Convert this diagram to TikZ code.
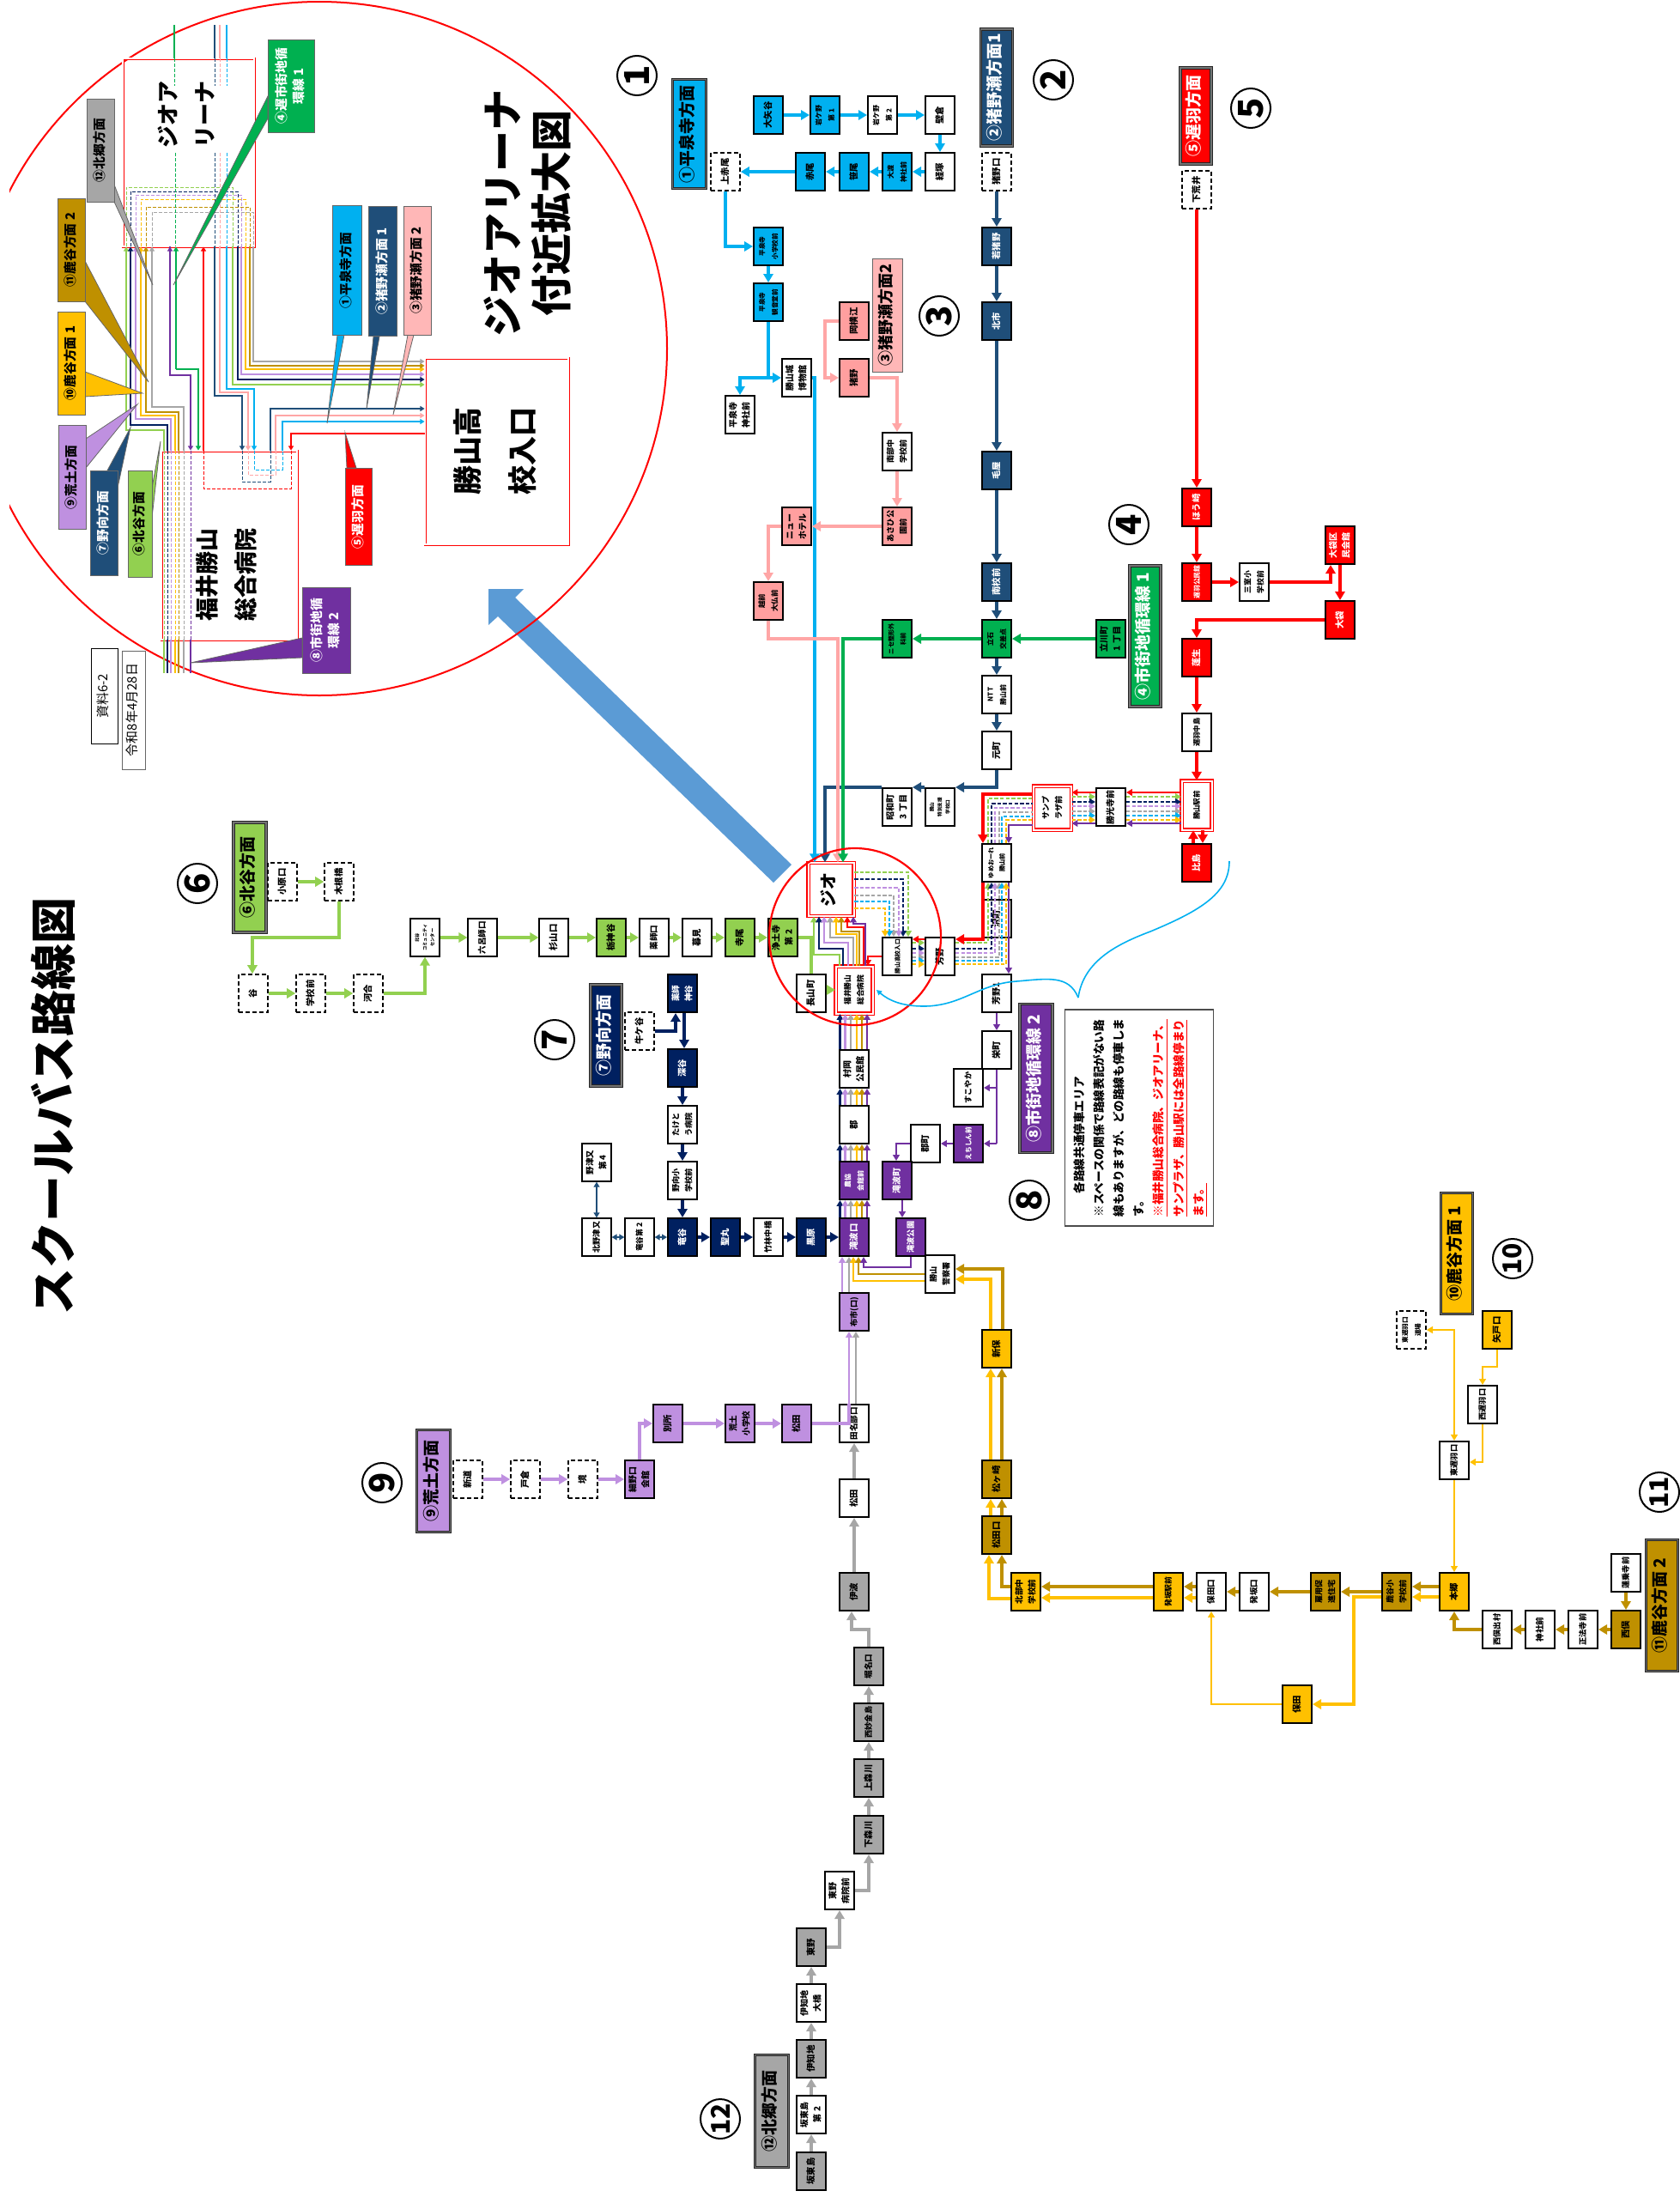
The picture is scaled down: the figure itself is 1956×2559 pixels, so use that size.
\documentclass[tikz,border=0pt]{standalone}
\usepackage{fontspec}
\setmainfont{Noto Sans CJK JP}
\usetikzlibrary{arrows.meta}
\newcommand{\tb}[1]{\rotatebox{90}{\begin{tabular}{@{}c@{}}#1\end{tabular}}}
\begin{document}
\begin{tikzpicture}[
  x=.5pt, y=-.5pt,
  stop/.style={
    draw=black,
    line width=1pt,
    fill=white,
    minimum width=17pt,
    minimum height=22pt,
    inner sep=0pt,
    font=\bfseries\fontsize{5.2}{8.5}\selectfont,
  },
  stopd/.style={stop, dashed, line width=.8pt, dash pattern=on 2.5pt off 1.5pt},
  stopt/.style={stop, line width=.6pt},
  fz/.style={font=\bfseries\fontsize{#1}{7.5}\selectfont},
  redbox/.style={stop, draw=red, double=white, double distance=1pt, line width=.6pt},
  hdr/.style={
    draw=black!85,
    double=black!55,
    double distance=.7pt,
    line width=.55pt,
    inner sep=0pt,
    font=\bfseries\fontsize{9.5}{11}\selectfont,
  },
  num/.style={
    circle,
    draw=black,
    line width=1pt,
    fill=white,
    minimum size=23pt,
    inner sep=0pt,
    font=\bfseries\fontsize{20}{20}\selectfont,
  },
  numw/.style={num, font=\bfseries\fontsize{15}{15}\selectfont},
  call/.style={
    draw=black!60,
    line width=.4pt,
    inner sep=0pt,
    font=\bfseries\fontsize{7.4}{10}\selectfont,
  },
  callp/.style={draw=black!60, line width=.4pt},
  lab/.style={inner sep=0pt},
  lineto/.style={line width=1.6pt, -{Triangle[length=5pt,width=5.6pt]}},
  thinto/.style={line width=1.05pt, -{Triangle[length=3.4pt,width=3.8pt]}},
  thinl/.style={line width=1.05pt},
  dashy/.style={line width=1.05pt, dash pattern=on 2.2pt off 1.1pt},
  dashto/.style={dashy, -{Triangle[length=3.4pt,width=3.8pt]}},
  boxin/.style={line width=.45pt, dash pattern=on 2pt off 1pt},
  inl/.style={line width=.8pt},
  into/.style={line width=.8pt, -{Triangle[length=2.6pt,width=3pt]}},
]
  \definecolor{cyanish}{RGB}{0,176,240}
  \definecolor{navytwo}{RGB}{31,78,121}
  \definecolor{navyseven}{RGB}{0,32,96}
  \definecolor{pinkline}{RGB}{255,166,166}
  \definecolor{pinkbox}{RGB}{255,159,159}
  \definecolor{pinkhead}{RGB}{255,183,183}
  \definecolor{greenish}{RGB}{0,176,80}
  \definecolor{limeish}{RGB}{146,208,80}
  \definecolor{purpleish}{RGB}{112,48,160}
  \definecolor{lilacish}{RGB}{191,144,224}
  \definecolor{yellowish}{RGB}{255,192,0}
  \definecolor{goldish}{RGB}{191,144,0}
  \definecolor{greyish}{RGB}{166,166,166}
  \definecolor{arrowblue}{RGB}{91,155,213}
  \useasboundingbox (0,0) rectangle (1956,2559);

  % title and date
  \node[lab, font=\bfseries\fontsize{27}{30}\selectfont] (title) at (68,1288) {\tb{スクールバス路線図}};
  \node[draw=black, line width=.5pt, minimum width=15.5pt, minimum height=55.5pt, inner sep=0pt, font=\fontsize{7.5}{9}\selectfont] (shiryo) at (121.5,811) {\tb{資料6-2}};
  \node[draw=black!60, line width=.5pt, minimum width=13.5pt, minimum height=69pt, inner sep=0pt, font=\fontsize{7.5}{9}\selectfont] (reiwa) at (156,827) {\tb{令和8年4月28日}};

  % big arrow
  \fill[arrowblue] (922,1007) -- (901,1028) -- (580,718) -- (569,728) -- (569,686) -- (610,686) -- (600,696) -- cycle;

  % route 1
  \node[hdr, fill=cyanish, minimum width=19.5pt, minimum height=63.5pt] (headone) at (803,156) {\tb{①平泉寺方面}};
  \node[num] (numone) at (742,88) {\rotatebox{90}{1}};
  \node[stop, fill=cyanish] (oyadani) at (895,134) {\tb{大矢谷}};
  \node[stop, fill=cyanish, fz=4] (iwaone) at (961,134) {\tb{岩ケ野\\第 1}};
  \node[stop, fz=4] (iwatwo) at (1028,134) {\tb{岩ケ野\\第 2}};
  \node[stop] (kabe) at (1095,134) {\tb{壁倉}};
  \node[stop] (kyoz) at (1095,200) {\tb{経塚}};
  \node[stop, fill=cyanish, fz=4] (owata) at (1045,200) {\tb{大渡\\神社前}};
  \node[stop, fill=cyanish] (sasao) at (995,200) {\tb{笹尾}};
  \node[stop, fill=cyanish] (akao) at (944,200) {\tb{赤尾}};
  \node[stopd] (kamiakao) at (845,200) {\tb{上赤尾}};
  \node[stop, fill=cyanish, fz=3.8] (hsgaku) at (895,287) {\tb{平泉寺\\小学校前}};
  \node[stop, fill=cyanish, fz=3.8] (hkan) at (895,352) {\tb{平泉寺\\観音堂前}};
  \node[stop, fz=5] (haku) at (928,440) {\tb{勝山城\\博物館}};
  \node[stop, fz=5] (hjin) at (862,483) {\tb{平泉寺\\神社前}};

  % route 2
  \node[hdr, fill=navytwo, text=white, minimum width=18.5pt, minimum height=68pt] (headtwo) at (1161,102) {\tb{②猪野瀬方面1}};
  \node[num] (numtwo) at (1227,93) {\rotatebox{90}{2}};
  \node[stopd] (inoguchi) at (1161,200) {\tb{猪野口}};
  \node[stop, fill=navytwo, text=white] (wakai) at (1161,287) {\tb{若猪野}};
  \node[stop, fill=navytwo, text=white] (kitaichi) at (1161,374) {\tb{北市}};
  \node[stop, fill=navytwo, text=white] (keya) at (1161,548) {\tb{毛屋}};
  \node[stop, fill=navytwo, text=white] (nanko) at (1161,678) {\tb{南校前}};
  \node[stop, fill=greenish, fz=4] (tateishi) at (1161,744) {\tb{立石\\交差点}};
  \node[stop, fz=4] (ntt) at (1161,809) {\tb{NTT\\勝山前}};
  \node[stop] (moto) at (1161,874) {\tb{元町}};
  \node[stop, font=\bfseries\fontsize{2.8}{4.6}\selectfont] (toku) at (1095,940) {\tb{勝山\\特別支援\\学校口}};
  \node[stop, fz=5] (showa) at (1045,940) {\tb{昭和町\\3 丁目}};

  % route 3
  \node[draw=black!60, line width=.5pt, fill=pinkhead, minimum width=17.5pt, minimum height=66pt, inner sep=0pt, font=\bfseries\fontsize{9}{11}\selectfont] (headthree) at (1034,367) {\tb{③猪野瀬方面2}};
  \node[num] (numthree) at (1094,368) {\rotatebox{90}{3}};
  \node[stop, fill=pinkbox] (okayoko) at (995,374) {\tb{岡横江}};
  \node[stop, fill=pinkbox] (inoo) at (995,440) {\tb{猪野}};
  \node[stop, fz=4.6] (nanbu) at (1045,526) {\tb{南部中\\学校前}};
  \node[stop, fill=pinkbox, fz=4.6] (asahi) at (1045,613) {\tb{あさひ公\\園前}};
  \node[stop, fill=pinkbox, fz=5] (newhotel) at (928,613) {\tb{ニュー\\ホテル}};
  \node[stop, fill=pinkbox, fz=4.2] (daibutsu) at (895,700) {\tb{越前\\大仏前}};

  % route 4
  \node[hdr, fill=greenish, text=white, minimum width=18pt, minimum height=82pt] (headfour) at (1334,741) {\tb{④市街地循環線 1}};
  \node[num] (numfour) at (1315,611) {\rotatebox{90}{4}};
  \node[stop, fill=greenish, fz=5] (tachi) at (1294,744) {\tb{立川町\\1 丁目}};
  \node[stop, fill=greenish, font=\bfseries\fontsize{3.6}{7}\selectfont] (nise) at (1045,744) {\tb{ニセ整形外\\科前}};

  % route 5
  \node[hdr, fill=red, text=white, minimum width=18pt, minimum height=56pt] (headfive) at (1393,135) {\tb{⑤遅羽方面}};
  \node[num] (numfive) at (1457,126) {\rotatebox{90}{5}};
  \node[stopd] (shimoarai) at (1394,221) {\tb{下荒井}};
  \node[stop, fill=red, text=white] (hozaki) at (1394,591) {\tb{ほう崎}};
  \node[stop, fill=red, text=white, fz=3.9] (kominkan) at (1394,678) {\tb{遅羽公民館}};
  \node[stop, fz=4.4] (sanshitsu) at (1461,678) {\tb{三室小\\学校前}};
  \node[stop, fill=red, text=white, fz=5] (okubuku) at (1561,635) {\tb{大袋区\\民会館}};
  \node[stop, fill=red, text=white] (obukuro) at (1561,722) {\tb{大袋}};
  \node[stop, fill=red, text=white] (yomogi) at (1394,766) {\tb{蓬生}};
  \node[stop, fz=4.2] (nakajima) at (1394,853) {\tb{遅羽中島}};
  \node[redbox, minimum width=17.5pt, minimum height=28.5pt, fz=4.2] (eki) at (1394,938) {\tb{勝山駅前}};
  \node[stop, fill=red, text=white] (hijima) at (1394,1005) {\tb{比島}};

  % trunk
  \node[redbox, minimum width=22pt, minimum height=25.5pt, fz=4.6] (sunplaza) at (1226,941) {\tb{サンプ\\ラザ前}};
  \node[stop, fz=5] (kokoji) at (1294,940) {\tb{勝光寺前}};
  \node[stop, font=\bfseries\fontsize{3.6}{6.5}\selectfont] (yume) at (1161,1005) {\tb{ゆめおーれ\\勝山前}};
  \node[stop] (sawa) at (1161,1070) {\tb{沢町}};
  \node[stop] (yoshino) at (1095,1114) {\tb{芳野}};
  \node[stop, fz=3.4] (konyu) at (1045,1114) {\tb{勝山高校入口}};
  \node[redbox, minimum width=26.5pt, minimum height=31pt, font=\bfseries\fontsize{10}{12}\selectfont] (jio) at (968,1036) {\tb{ジオ}};
  \node[redbox, minimum width=21.5pt, minimum height=27.5pt, fz=4.4] (hosp) at (995,1153) {\tb{福井勝山\\総合病院}};
  \node[stop, fz=5.2] (choyama) at (945,1157) {\tb{長山町}};
  \node[stop, fill=limeish, fz=5] (joudo) at (912,1092) {\tb{浄土寺\\第 2}};
  \node[stop, fz=5] (yoshinoone) at (1161,1157) {\tb{芳野1}};
  \node[stop] (sakae) at (1161,1223) {\tb{栄町}};
  \node[stop, fz=4.6] (sukoyaka) at (1128,1267) {\tb{すこやか}};
  \node[stop, fill=purpleish, text=white, fz=3.9] (echi) at (1128,1332) {\tb{えちしん前}};
  \node[stop] (koricho) at (1078,1332) {\tb{郡町}};
  \node[stop, fz=5] (mura) at (995,1245) {\tb{村岡\\公民館}};
  \node[stop] (kori) at (995,1310) {\tb{郡}};
  \node[stop, fill=purpleish, text=white, fz=4] (nokyo) at (995,1375) {\tb{農協\\会館前}};
  \node[stop, fill=purpleish, text=white, fz=5] (takicho) at (1045,1375) {\tb{滝波町}};
  \node[stop, fill=purpleish, text=white, fz=4.6] (takikoen) at (1061,1441) {\tb{滝波公園}};
  \node[stop, fill=purpleish, text=white] (takiguchi) at (995,1441) {\tb{滝波口}};
  \node[stop, fz=4.6] (police) at (1095,1484) {\tb{勝山\\警察署}};
  \node[stop, fill=lilacish, fz=4.6] (nunoichi) at (995,1528) {\tb{布市(口)}};
  \node[stop, fz=4.8] (tanabe) at (995,1658) {\tb{田名部口}};

  % route 6
  \node[hdr, fill=limeish, minimum width=19pt, minimum height=64pt] (headsix) at (291,1022) {\tb{⑥北谷方面}};
  \node[num] (numsix) at (230,1029) {\rotatebox{90}{6}};
  \node[stopd] (ohara) at (329,1027) {\tb{小原口}};
  \node[stopd] (kine) at (395,1027) {\tb{木根橋}};
  \node[stopd] (tani) at (295,1157) {\tb{谷}};
  \node[stopd] (gakko) at (362,1157) {\tb{学校前}};
  \node[stopd] (kawai) at (429,1157) {\tb{河合}};
  \node[stopt, font=\bfseries\fontsize{2.6}{4.4}\selectfont] (kitadani) at (495,1092) {\tb{北谷\\コミュニティ\\センター}};
  \node[stopt, fz=4.8] (rokuro) at (562,1092) {\tb{六呂師口}};
  \node[stopt] (sugi) at (645,1092) {\tb{杉山口}};
  \node[stop, fill=limeish] (tochi) at (712,1092) {\tb{栃神谷}};
  \node[stop, fz=4.8] (yakuguchi) at (762,1092) {\tb{薬師口}};
  \node[stop] (kuremi) at (812,1092) {\tb{暮見}};
  \node[stop, fill=limeish] (terao) at (862,1092) {\tb{寺尾}};

  % route 7
  \node[hdr, fill=navyseven, text=white, minimum width=18pt, minimum height=59pt] (headseven) at (706,1206) {\tb{⑦野向方面}};
  \node[num] (numseven) at (646,1211) {\rotatebox{90}{7}};
  \node[stop, fill=navyseven, text=white, fz=4.8] (yakushi) at (795,1157) {\tb{薬師\\神谷}};
  \node[stopd] (ushi) at (745,1201) {\tb{牛ケ谷}};
  \node[stop, fill=navyseven, text=white] (fuka) at (795,1244) {\tb{深谷}};
  \node[stop, fz=4.6] (taketo) at (795,1310) {\tb{たけと\\う病院}};
  \node[stop, fz=4.6] (nomuke) at (795,1375) {\tb{野向小\\学校前}};
  \node[stop, fill=navyseven, text=white] (ryu) at (795,1441) {\tb{竜谷}};
  \node[stop, fill=navyseven, text=white] (hijiri) at (845,1441) {\tb{聖丸}};
  \node[stop, fz=4.6] (takeb) at (895,1441) {\tb{竹林中橋}};
  \node[stop, fill=navyseven, text=white] (kuro) at (945,1441) {\tb{黒原}};
  \node[stopt, fz=4.4] (ryutwo) at (745,1441) {\tb{竜谷第 2}};
  \node[stopt, fz=4.6] (kitano) at (695,1441) {\tb{北野津又}};
  \node[stopt, fz=4.8] (notsu) at (695,1354) {\tb{野津又\\第 4}};

  % route 8
  \node[hdr, fill=purpleish, text=white, minimum width=19pt, minimum height=86.5pt] (headeight) at (1207,1256) {\tb{⑧市街地循環線 2}};
  \node[num] (numeight) at (1199,1398) {\rotatebox{90}{8}};
  \node[draw=black!70, line width=.7pt, fill=white, minimum width=86.5pt, minimum height=126pt, inner sep=0pt, font=\bfseries\fontsize{6.8}{11.6}\selectfont] (note) at (1327,1302) {\rotatebox{90}{\begin{tabular}{@{}l@{}}
    \hspace{2em}各路線共通停車エリア\\
    ※スペースの関係で路線表記がない路\\
    線もありますが、どの路線も停車しま\\
    す。\\
    \textcolor{red}{\underline{※福井勝山総合病院、ジオアリーナ、}}\\
    \textcolor{red}{\underline{サンプラザ、勝山駅には全路線停まり}}\\
    \textcolor{red}{\underline{ます。}}
  \end{tabular}}};

  % route 9
  \node[hdr, fill=lilacish, minimum width=19.5pt, minimum height=59.5pt] (headnine) at (505,1725) {\tb{⑨荒土方面}};
  \node[num] (numnine) at (445,1727) {\rotatebox{90}{9}};
  \node[stopd] (shindo) at (545,1723) {\tb{新道}};
  \node[stopd] (tokura) at (612,1723) {\tb{戸倉}};
  \node[stopd] (sakai) at (679,1723) {\tb{境}};
  \node[stop, fill=lilacish, fz=5] (hosono) at (745,1723) {\tb{細野口\\会館}};
  \node[stop, fill=lilacish] (bessho) at (778,1658) {\tb{別所}};
  \node[stop, fill=lilacish, fz=4.8] (arado) at (862,1658) {\tb{荒土\\小学校}};
  \node[stop, fill=lilacish] (matsulilac) at (928,1658) {\tb{松田}};

  % route 10 and 11
  \node[hdr, fill=yellowish, minimum width=18.5pt, minimum height=70.5pt] (headten) at (1697,1460) {\tb{⑩鹿谷方面 1}};
  \node[numw] (numten) at (1762,1466) {\rotatebox{90}{10}};
  \node[stopd, fz=3.8] (higadojo) at (1644,1549) {\tb{東遅羽口\\道場}};
  \node[stop, fill=yellowish] (yato) at (1744,1549) {\tb{矢戸口}};
  \node[stop, fz=4.6] (nishiguchi) at (1727,1636) {\tb{西遅羽口}};
  \node[stop, fz=4.6] (higaguchi) at (1694,1701) {\tb{東遅羽口}};
  \node[stop, fill=yellowish] (hongo) at (1694,1854) {\tb{本郷}};
  \node[stop, fill=goldish, fz=4.6] (shikasho) at (1627,1854) {\tb{鹿谷小\\学校前}};
  \node[stop, fill=goldish, fz=4.6] (koyo) at (1544,1854) {\tb{雇用促\\進住宅}};
  \node[stop, fz=4.8] (hossaka) at (1461,1854) {\tb{発坂口}};
  \node[stop, fz=4.8] (hotaguchi) at (1411,1854) {\tb{保田口}};
  \node[stop, fill=yellowish, fz=4.4] (hossakaeki) at (1361,1854) {\tb{発坂駅前}};
  \node[stop, fill=yellowish, fz=4.8] (hokubu) at (1195,1854) {\tb{北部中\\学校前}};
  \node[stop, fill=goldish] (matsuguchi) at (1161,1788) {\tb{松田口}};
  \node[stop, fill=goldish] (matsuga) at (1161,1723) {\tb{松ヶ崎}};
  \node[stop, fill=yellowish] (shinbo) at (1161,1571) {\tb{新保}};
  \node[stop, fill=yellowish] (hota) at (1511,1985) {\tb{保田}};
  \node[stop, fill=goldish] (nishimata) at (1894,1898) {\tb{西俣}};
  \node[stop, fz=4.6] (shoho) at (1844,1898) {\tb{正法寺前}};
  \node[stop, fz=4.8] (jinja) at (1794,1898) {\tb{神社前}};
  \node[stop, fz=4.6] (demura) at (1744,1898) {\tb{西俣出村}};
  \node[stop, fz=4.6] (renjo) at (1894,1832) {\tb{蓮乗寺前}};
  \node[hdr, fill=goldish, minimum width=18.5pt, minimum height=76.5pt] (headeleven) at (1936,1870) {\tb{⑪鹿谷方面 2}};
  \node[numw] (numeleven) at (1933,1738) {\rotatebox{90}{11}};

  % route 12
  \node[stop] (matsuw) at (995,1745) {\tb{松田}};
  \node[stop, fill=greyish] (ihami) at (995,1854) {\tb{伊波}};
  \node[stop, fill=greyish, fz=4.8] (horina) at (1012,1941) {\tb{堀名口}};
  \node[stop, fill=greyish, fz=4.6] (nishimyo) at (1012,2006) {\tb{西妙金島}};
  \node[stop, fill=greyish] (kamimori) at (1012,2071) {\tb{上森川}};
  \node[stop, fill=greyish] (shimomori) at (1012,2137) {\tb{下森川}};
  \node[stop, fz=5] (higashiby) at (978,2202) {\tb{東野\\病院前}};
  \node[stop, fill=greyish] (higashino) at (945,2268) {\tb{東野}};
  \node[stop, fz=5] (ichiob) at (945,2333) {\tb{伊知地\\大橋}};
  \node[stop, fill=greyish] (ichiji) at (945,2398) {\tb{伊知地}};
  \node[stop, fz=5] (bantwo) at (945,2463) {\tb{坂東島\\第 2}};
  \node[stop, fill=greyish] (banto) at (945,2529) {\tb{坂東島}};
  \node[hdr, fill=greyish, minimum width=19.5pt, minimum height=65.5pt] (headtwelve) at (899,2459) {\tb{⑫北郷方面}};
  \node[numw] (numtwelve) at (839,2468) {\rotatebox{90}{12}};

  % connectors route 1
  \foreach \a/\b in {oyadani/iwaone, iwaone/iwatwo, iwatwo/kabe, kabe/kyoz, kyoz/owata, owata/sasao, sasao/akao, akao/kamiakao, hsgaku/hkan}
    \draw[lineto, cyanish] (\a) -- (\b);
  \draw[lineto, cyanish] (kamiakao) |- (hsgaku);
  \draw[lineto, cyanish] (hkan) |- (haku);
  \draw[lineto, cyanish] (hkan.south |- haku) -| (hjin);
  \draw[lineto, cyanish] (haku.east) -| (jio.north -| 949,0);

  % connectors route 2
  \foreach \a/\b in {inoguchi/wakai, wakai/kitaichi, kitaichi/keya, keya/nanko, nanko/tateishi, tateishi/ntt, ntt/moto}
    \draw[lineto, navytwo] (\a) -- (\b);
  \draw[lineto, navytwo] (moto.south) |- (toku.north east);
  \draw[lineto, navytwo] (toku.north west) -- (showa.north east);
  \draw[lineto, navytwo] (showa.north west) -| (jio.north -| 961,0);

  % connectors route 3
  \draw[lineto, pinkline] (okayoko.west) -- (961,374) |- (inoo.west);
  \draw[lineto, pinkline] (inoo) -| (nanbu);
  \draw[lineto, pinkline] (nanbu) -- (asahi);
  \draw[lineto, pinkline] (asahi) -- (newhotel);
  \draw[lineto, pinkline] (newhotel) -| (daibutsu);
  \draw[lineto, pinkline] (daibutsu.south) |- (976,744) -- (jio.north -| 976,0);

  % connectors route 4
  \draw[lineto, greenish] (tachi) -- (tateishi);
  \draw[lineto, greenish] (tateishi) -- (nise);
  \draw[lineto, greenish] (nise.west) -| (jio.north -| 982,0);

  % connectors route 5
  \foreach \a/\b in {shimoarai/hozaki, hozaki/kominkan, kominkan/sanshitsu, okubuku/obukuro, yomogi/nakajima, nakajima/eki}
    \draw[lineto, red] (\a) -- (\b);
  \draw[lineto, red] (sanshitsu.east) -| (okubuku.south -| 1550,0);
  \draw[lineto, red] (obukuro) -| (yomogi);
  \draw[lineto, red] (hijima.north -| 1390,0) -- (eki.south -| 1390,0);
  \draw[lineto, red] (eki.south -| 1401,0) -- (hijima.north -| 1401,0);

  % connectors trunk east
  \foreach \col/\yy in {limeish/928, navyseven/934, lilacish/939, greyish/945, cyanish/950, yellowish/955} {
    \draw[dashto, color=\col] (sunplaza.east |- 0,\yy) -- (kokoji.west |- 0,\yy);
    \draw[dashto, color=\col] (kokoji.east |- 0,\yy) -- (eki.west |- 0,\yy);
  }
  \draw[thinto, red] (eki.west |- 0,923) -- (kokoji.east |- 0,923);
  \draw[thinto, red] (kokoji.west |- 0,923) -- (sunplaza.east |- 0,923);
  \draw[thinto, purpleish] (eki.west |- 0,959) -- (kokoji.east |- 0,959);
  \draw[thinto, purpleish] (kokoji.west |- 0,959) -- (sunplaza.east |- 0,959);
  \draw[lineto, red] (sunplaza.west |- 0,925) -| (yume.north -| 1145,0);
  \draw[thinto, purpleish] (sunplaza.west |- 0,961) -| (yume.north -| 1175,0);
  \draw[thinto, purpleish] (yume.south -| 1175,0) -- (yoshinoone.north -| 1175,0);
  \foreach \col/\yy/\xx/\yh in {limeish/930/1151/1098, navyseven/936/1155/1105, lilacish/941/1159/1110, greyish/946/1164/1115, cyanish/951/1167/1119, yellowish/955/1172/1123} {
    \draw[dashy, color=\col] (yume.north -| \xx,0) |- (sunplaza.west |- 0,\yy);
    \draw[dashto, color=\col] (yoshino.east |- 0,\yh) -| (yume.south -| \xx,0);
    \draw[dashto, color=\col] (konyu.east |- 0,\yh) -- (yoshino.west |- 0,\yh);
  }
  \draw[lineto, red] (yume.south -| 1145,0) |- (yoshino.east |- 0,1094);
  \draw[thinto, red] (yoshino.west |- 0,1094) -- (konyu.east |- 0,1094);
  \draw[thinto, red] (konyu.west) -| (hosp.north -| 1011,0);

  % jio to school entrance
  \foreach \col/\yy/\xx in {limeish/1016/1058, navyseven/1024/1052, lilacish/1034/1047, greyish/1043/1041, cyanish/1050/1036, yellowish/1058/1031}
    \draw[dashto, color=\col] (jio.east |- 0,\yy) -| (konyu.north -| \xx,0);

  % hospital to jio
  \foreach \col/\xj/\yh/\xh in {limeish/948/1112/978, navyseven/954/1105/982, lilacish/960/1098/988, greyish/967/1092/994, yellowish/974/1088/998, goldish/980/1085/1001, red/987/1080/1006, purpleish/994/1076/1008}
    \draw[thinto, color=\col] (hosp.north -| \xh,0) |- (\xj,\yh) -- (jio.south -| \xj,0);
  \draw[lineto, limeish, -] (joudo) -| (choyama);
  \draw[lineto, limeish] (choyama.east |- hosp) -- (hosp.west);

  % trunk south of hospital
  \foreach \a/\b in {mura/hosp, kori/mura, nokyo/kori, takiguchi/nokyo}
    \foreach \col/\xx in {navyseven/978.5, lilacish/984.5, greyish/991, yellowish/998, goldish/1004, purpleish/1010}
      \draw[thinto, color=\col] (\a.north -| \xx,0) -- (\b.south -| \xx,0);
  \foreach \col/\xx in {lilacish/981, greyish/989}
    \draw[thinto, color=\col] (nunoichi.north -| \xx,0) -- (takiguchi.south -| \xx,0);
  \draw[thinto, yellowish] (police.west |- 0,1492) -| (takiguchi.south -| 994,0);
  \draw[thinto, goldish] (police.west |- 0,1484) -| (takiguchi.south -| 1000,0);
  \draw[thinto, purpleish] (takikoen.south) |- (1006,1476) -- (takiguchi.south -| 1006,0);
  \draw[thinto, lilacish] (tanabe.north -| 989,0) -- (nunoichi.south -| 989,0);
  \draw[thinto, greyish] (tanabe.north -| 997,0) -- (nunoichi.south -| 997,0);

  % connectors route 8
  \draw[thinto, purpleish] (yoshinoone) -- (sakae);
  \draw[thinl, purpleish] (sakae.south) -- (1161,1332);
  \draw[thinto, purpleish] (1161,1267) -- (sukoyaka.east);
  \draw[thinto, purpleish] (1161,1332) -- (echi.east);
  \draw[thinto, purpleish] (echi) -- (koricho);
  \draw[thinto, purpleish] (koricho.west) -| (takicho.north -| 1044,0);
  \draw[thinto, purpleish] (takicho.south -| 1051,0) -- (takikoen.north -| 1051,0);

  % connectors route 6
  \draw[lineto, limeish] (ohara) -- (kine);
  \draw[lineto, limeish] (kine) |- (294,1092) -- (tani.north -| 294,0);
  \draw[lineto, limeish] (tani) -- (gakko);
  \draw[lineto, limeish] (gakko) -- (kawai);
  \draw[lineto, limeish] (kawai) -| (kitadani);
  \foreach \a/\b in {kitadani/rokuro, rokuro/sugi, sugi/tochi, tochi/yakuguchi, yakuguchi/kuremi, kuremi/terao, terao/joudo}
    \draw[lineto, limeish] (\a) -- (\b);

  % connectors route 7
  \draw[lineto, navyseven] (ushi.east) -| (yakushi.south -| 787,0);
  \draw[lineto, navyseven] (yakushi.south -| 797,0) -- (fuka.north -| 797,0);
  \foreach \a/\b in {fuka/taketo, taketo/nomuke, nomuke/ryu, ryu/hijiri, hijiri/takeb, takeb/kuro, kuro/takiguchi}
    \draw[lineto, navyseven] (\a) -- (\b);
  \foreach \a/\b in {ryu/ryutwo, ryutwo/kitano, kitano/notsu}
    \draw[line width=.85pt, navytwo, {Triangle[length=3pt,width=3.4pt]}-{Triangle[length=3pt,width=3.4pt]}] (\a) -- (\b);

  % connectors route 9
  \draw[lineto, lilacish] (shindo) -- (tokura);
  \draw[lineto, lilacish] (tokura) -- (sakai);
  \draw[lineto, lilacish] (sakai) -- (hosono);
  \draw[lineto, lilacish] (hosono) |- (bessho);
  \draw[lineto, lilacish] (bessho) -- (arado);
  \draw[lineto, lilacish] (arado) -- (matsulilac);
  \draw[lineto, lilacish, -] (matsulilac.east) -- (989,1658) -- (tanabe.north -| 989,0);

  % connectors route 10 and 11
  \draw[thinto, yellowish, {Triangle[length=3.6pt,width=4pt]}-{Triangle[length=3.6pt,width=4pt]}] (higadojo.east) -| (higaguchi.north);
  \draw[thinto, yellowish] (yato.south) -- (1744,1592) -| (nishiguchi.north);
  \draw[thinto, yellowish] (nishiguchi.south) |- (higaguchi.east |- 0,1703);
  \draw[thinto, yellowish] (higaguchi) -- (hongo);
  \draw[lineto, goldish] (hongo.west |- 0,1848) -- (shikasho.east |- 0,1848);
  \draw[lineto, yellowish] (hongo.west |- 0,1860) -- (shikasho.east |- 0,1860);
  \draw[lineto, goldish] (renjo) -- (nishimata);
  \draw[lineto, goldish] (nishimata) -- (shoho);
  \draw[lineto, goldish] (shoho) -- (jinja);
  \draw[lineto, goldish] (jinja) -- (demura);
  \draw[lineto, goldish] (demura) -| (hongo);
  \draw[lineto, goldish] (shikasho) -- (koyo);
  \draw[lineto, goldish] (koyo) -- (hossaka);
  \draw[lineto, goldish] (hossaka) -- (hotaguchi);
  \draw[lineto, yellowish] (shikasho.west |- 0,1860) -- (1577,1860) |- (hota.east);
  \draw[thinto, yellowish] (hota) -| (hotaguchi);
  \foreach \a/\b in {hotaguchi/hossakaeki, hossakaeki/hokubu} {
    \draw[lineto, goldish] (\a.west |- 0,1848) -- (\b.east |- 0,1848);
    \draw[lineto, yellowish] (\a.west |- 0,1861) -- (\b.east |- 0,1861);
  }
  \draw[lineto, goldish] (hokubu.west |- 0,1848) -| (matsuguchi.south -| 1167,0);
  \draw[lineto, yellowish] (hokubu.west |- 0,1862) -| (matsuguchi.south -| 1152,0);
  \foreach \a/\b in {matsuguchi/matsuga, matsuga/shinbo} {
    \draw[lineto, goldish] (\a.north -| 1167,0) -- (\b.south -| 1167,0);
    \draw[lineto, yellowish] (\a.north -| 1154,0) -- (\b.south -| 1154,0);
  }
  \draw[lineto, goldish] (shinbo.north -| 1168,0) |- (police.east |- 0,1478);
  \draw[lineto, yellowish] (shinbo.north -| 1154,0) |- (police.east |- 0,1490);

  % connectors route 12
  \foreach \a/\b in {banto/bantwo, bantwo/ichiji, ichiji/ichiob, ichiob/higashino, nishimyo/horina, kamimori/nishimyo, shimomori/kamimori, ihami/matsuw, matsuw/tanabe}
    \draw[lineto, greyish] (\a) -- (\b);
  \draw[lineto, greyish] (higashino.east) -| (higashiby.south);
  \draw[lineto, greyish] (higashiby.east) -| (shimomori.south);
  \draw[lineto, greyish] (horina.north) |- (992,1898) -- (ihami.south -| 992,0);

  % small circle and note curve
  \draw[red, line width=1.1pt] (996,1091) ellipse [x radius=100, y radius=103];
  \coordinate (curveapex) at (1256,1162);
  \draw[cyanish, line width=.8pt] (curveapex) .. controls (1262,1120) and (1300,1100) .. (1340,1085) .. controls (1400,1060) and (1432,1040) .. (1432,1003);
  \draw[cyanish, line width=.8pt, -{Triangle[length=3pt,width=3pt]}] (curveapex) .. controls (1245,1135) and (1220,1140) .. (1184,1143) .. controls (1140,1146) and (1120,1172) .. (1076,1172) .. controls (1050,1172) and (1035,1165) .. (1021,1153);

  % enlarged view
  \begin{scope}
    \clip (11,-5) rectangle (800,830);
    \draw[red, line width=1pt] (372,406) ellipse [x radius=405, y radius=404];
  \end{scope}
  \node[lab, font=\bfseries\fontsize{24}{26}\selectfont] (bigtitle) at (620,248) {\tb{ジオアリーナ\\付近拡大図}};
  \node[draw=red, double=white, double distance=.7pt, line width=.4pt, minimum width=76.5pt, minimum height=109.5pt, inner sep=0pt] (biggeo) at (219.5,177.5) {};
  \node[draw=red, double=white, double distance=.7pt, line width=.4pt, minimum width=79pt, minimum height=110pt, inner sep=0pt] (bighosp) at (267,635) {};
  \node[draw=red, double=white, double distance=.7pt, line width=.4pt, minimum width=83.5pt, minimum height=108.5pt, inner sep=0pt] (bigkonyu) at (578.5,525.5) {};
  \node[lab, font=\bfseries\fontsize{13}{21.5}\selectfont] (biggeotext) at (218,133) {\tb{ジオア\\リーナ}};
  \node[lab, font=\bfseries\fontsize{13.5}{22.5}\selectfont] (bighosptext) at (265,669) {\tb{福井勝山\\総合病院}};
  \node[lab, font=\bfseries\fontsize{17}{32}\selectfont] (bigkonyutext) at (577,525) {\tb{勝山高\\校入口}};

  % lines of the enlarged view
  \foreach \col/\xj/\yt/\xr/\yr/\xh/\yh in {limeish/147/218/271/448/191/501, navyseven/152/223/277/442/195/495, lilacish/158/227/281/436/199/488, yellowish/164/232/286/430/204/484, goldish/170/241/291/426/208/480, greyish/177/247/295/421/214/474} {
    \draw[boxin, color=\col] (biggeo.south -| \xj,0) |- (\xr,\yt) -- (biggeo.south -| \xr,0);
    \draw[into, color=\col] (biggeo.south -| \xr,0) |- (bigkonyu.west |- 0,\yr);
    \draw[into, color=\col] (bighosp.north -| \xh,0) |- (\xj,\yh) -- (biggeo.south -| \xj,0);
    \draw[boxin, color=\col] (bighosp.north -| \xh,0) -- (bighosp.south -| \xh,0);
    \draw[inl, color=\col] (bighosp.south -| \xh,0) -- (\xh,784);
  }
  \coordinate (bigbottompurple) at (222,784);
  \draw[inl, purpleish] (bigbottompurple) -- (bighosp.south -| 222,0);
  \draw[boxin, purpleish] (bighosp.south -| 222,0) -- (bighosp.north -| 222,0);
  \draw[into, purpleish] (biggeo.south -| 198,0) -- (198,437) -| (bighosp.north -| 222,0);
  \draw[into, purpleish] (198,437) -- (biggeo.south -| 198,0);
  \draw[into, greenish] (205,430) -- (biggeo.south -| 205,0);
  \draw[into, greenish] (205,430) -| (bighosp.north -| 231,0);
  \draw[into, red] (bighosp.north -| 237,0) -- (biggeo.south -| 237,0);
  \draw[boxin, red] (bighosp.north -| 237,0) |- (339,569) -- (bighosp.north -| 339,0);
  \draw[into, red] (bigkonyu.west |- 0,505) -| (bighosp.north -| 339,0);
  \coordinate (bigtopgreen) at (203,29);
  \draw[inl, greenish] (bigtopgreen) -- (biggeo.north -| 203,0);
  \draw[boxin, greenish] (biggeo.north -| 203,0) -- (203,100);
  \draw[boxin, greenish] (204,178) -- (biggeo.south -| 204,0);
  \foreach \col/\xx/\yh/\xh/\yb/\xe/\yf in {navytwo/250/461/282/561/315/476, pinkline/256/457/289/553/321/484, cyanish/264/453/296/547/329/491} {
    \coordinate (bigtop) at (\xx,29);
    \draw[inl, color=\col] (bigtop) -- (biggeo.north -| \xx,0);
    \draw[boxin, color=\col] (biggeo.north -| \xx,0) -- (\xx,100);
    \draw[boxin, color=\col] (\xx,178) -- (biggeo.south -| \xx,0);
    \draw[into, color=\col] (biggeo.south -| \xx,0) |- (\xh,\yh) -- (bighosp.north -| \xh,0);
    \draw[boxin, color=\col] (bighosp.north -| \xh,0) |- (\xe,\yb) -- (bighosp.north -| \xe,0);
    \draw[into, color=\col] (bighosp.north -| \xe,0) |- (bigkonyu.west |- 0,\yf);
  }

  % callouts of the enlarged view
  \coordinate (tipfour) at (202,332);
  \filldraw[callp, fill=greenish] (312,112) -- (tipfour) -- (312,138) -- cycle;
  \node[call, fill=greenish, text=white, minimum width=27pt, minimum height=54pt] (calfour) at (339,100) {\tb{④遅市街地循\\環線 1}};
  \coordinate (tiptwelve) at (178,332);
  \filldraw[callp, fill=greyish] (133,215) -- (tiptwelve) -- (133,235) -- cycle;
  \node[call, fill=greyish, minimum width=16pt, minimum height=60pt] (caltwelve) at (117,175) {\tb{⑫北郷方面}};
  \coordinate (tipeleven) at (173,445);
  \filldraw[callp, fill=goldish] (99,304) -- (tipeleven) -- (99,351) -- cycle;
  \node[call, fill=goldish, minimum width=16pt, minimum height=60pt] (caleleven) at (83,291) {\tb{⑪鹿谷方面 2}};
  \coordinate (tipten) at (166,458);
  \filldraw[callp, fill=yellowish] (99,433) -- (tipten) -- (99,462) -- cycle;
  \node[call, fill=yellowish, minimum width=16pt, minimum height=60pt] (calten) at (83,423) {\tb{⑩鹿谷方面 1}};
  \coordinate (tipnine) at (160,471);
  \filldraw[callp, fill=lilacish] (100,511) -- (tipnine) -- (100,545) -- cycle;
  \node[call, fill=lilacish, minimum width=16pt, minimum height=60.5pt] (calnine) at (84,556) {\tb{⑨荒土方面}};
  \coordinate (tipseven) at (152,498);
  \filldraw[callp, fill=navytwo] (137,568) -- (tipseven) -- (125,548) -- cycle;
  \node[call, fill=navytwo, text=white, minimum width=16pt, minimum height=61pt] (calseven) at (121,609) {\tb{⑦野向方面}};
  \coordinate (tipsix) at (187,514);
  \filldraw[callp, fill=limeish] (177,568) -- (tipsix) -- (177,603) -- cycle;
  \node[call, fill=limeish, minimum width=14pt, minimum height=62pt] (calsix) at (163,610) {\tb{⑥北谷方面}};
  \coordinate (tipone) at (381,493);
  \filldraw[callp, fill=cyanish] (393,390) -- (tipone) -- (401,390) -- cycle;
  \node[call, fill=cyanish, minimum width=17pt, minimum height=75.5pt] (calone) at (404,315) {\tb{①平泉寺方面}};
  \coordinate (tiptwo) at (427,476);
  \filldraw[callp, fill=navytwo] (435,392) -- (tiptwo) -- (442,392) -- cycle;
  \node[call, fill=navytwo, text=white, minimum width=16.5pt, minimum height=75.5pt] (caltwo) at (446,316) {\tb{②猪野瀬方面 1}};
  \coordinate (tipthree) at (458,483);
  \filldraw[callp, fill=pinkhead] (475,390) -- (tipthree) -- (482,390) -- cycle;
  \node[call, fill=pinkhead, minimum width=16pt, minimum height=75pt] (calthree) at (486,315) {\tb{③猪野瀬方面 2}};
  \coordinate (tipfive) at (402,504);
  \filldraw[callp, fill=red] (404,545) -- (tipfive) -- (415,545) -- cycle;
  \node[call, fill=red, text=white, minimum width=15.5pt, minimum height=56.5pt] (calfive) at (418,602) {\tb{⑤遅羽方面}};
  \coordinate (tipeight) at (222,772);
  \filldraw[callp, fill=purpleish] (352,743) -- (tipeight) -- (352,766) -- cycle;
  \node[call, fill=purpleish, text=white, minimum width=28pt, minimum height=50pt] (caleight) at (380,734) {\tb{⑧市街地循\\環線 2}};
\end{tikzpicture}
\end{document}
